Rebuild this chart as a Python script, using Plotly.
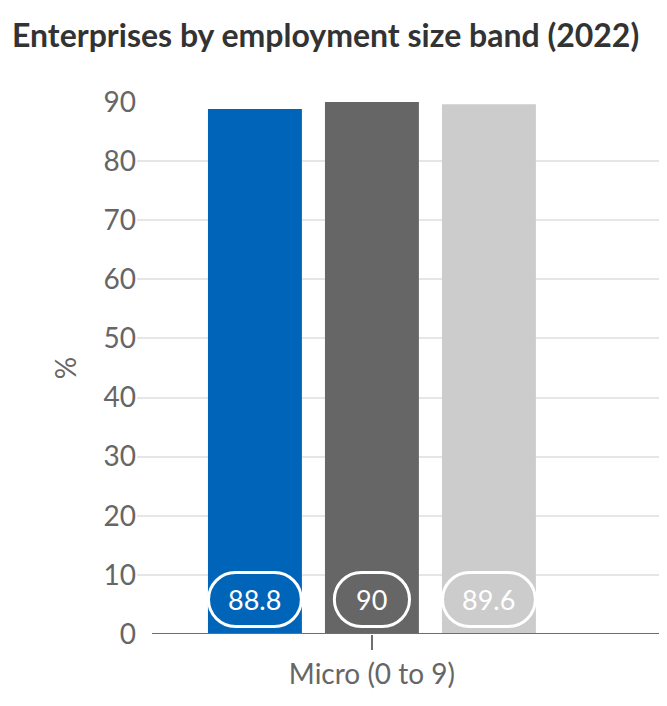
import plotly.graph_objects as go

categories = ["Micro (0 to 9)"]
series_names = ["Series A", "Series B", "Series C"]
series_values = [[88.8], [90], [89.6]]
series_colors = ["#0065b8", "#666666", "#cccccc"]
y_ticks = [0, 10, 20, 30, 40, 50, 60, 70, 80, 90]

FONT = "Lato"
BARGAP = 0.253
GROUPGAP = 0.197
FIG_W, FIG_H = 659, 690
PLOT_L = 129
PLOT_W = FIG_W - PLOT_L

fig = go.Figure()
for name, vals, col in zip(series_names, series_values, series_colors):
    fig.add_trace(go.Bar(x=categories, y=vals, name=name, marker_color=col,
                         marker_line_width=0, hoverinfo="skip"))

n = len(series_values)
slot = (1 - BARGAP) / n


def label_text(v):
    return f"{v:g}"


def pill_path(w, h, yc):
    r = h / 2
    k = 0.5523 * r
    x0, x1 = -w / 2 + r, w / 2 - r
    yt, yb = yc + r, yc - r
    return (f"M {x0},{yt} L {x1},{yt} "
            f"C {x1 + k},{yt} {x1 + r},{yc + k} {x1 + r},{yc} "
            f"C {x1 + r},{yc - k} {x1 + k},{yb} {x1},{yb} "
            f"L {x0},{yb} "
            f"C {x0 - k},{yb} {x0 - r},{yc - k} {x0 - r},{yc} "
            f"C {x0 - r},{yc + k} {x0 - k},{yt} {x0},{yt} Z")


shapes = []
annotations = []
for ci, cat in enumerate(categories):
    for i, (vals, col) in enumerate(zip(series_values, series_colors)):
        v = vals[ci]
        txt = label_text(v)
        tw = sum(7 if ch == "." else 15.1 for ch in txt)
        outer_w = 0.8 * tw + 54
        xc = ci + (i - (n - 1) / 2) * slot
        shapes.append(dict(type="path", xref="x", yref="y",
                           xsizemode="pixel", ysizemode="pixel",
                           xanchor=xc, yanchor=0,
                           path=pill_path(outer_w - 3, 54, 34.5),
                           fillcolor=col, line=dict(color="white", width=3),
                           layer="above"))
        annotations.append(dict(x=xc, y=0, xref="x", yref="y", text=txt,
                                showarrow=False, yshift=34.5, yanchor="middle",
                                xanchor="center",
                                font=dict(family=FONT, size=27, color="white")))

# x axis baseline
shapes.append(dict(type="line", xref="paper", yref="y", x0=15 / PLOT_W, x1=1,
                   y0=0, y1=0, line=dict(color="#6e6e6e", width=2), layer="above"))

fig.update_layout(
    width=FIG_W, height=FIG_H,
    margin=dict(l=PLOT_L, r=0, t=94, b=64),
    paper_bgcolor="white", plot_bgcolor="white",
    barmode="group", bargap=BARGAP, bargroupgap=GROUPGAP,
    showlegend=False,
    title=dict(text="<b>Enterprises by employment size band (2022)</b>",
               x=4 / FIG_W, xanchor="left", xref="container",
               y=1 - 17 / FIG_H, yanchor="top",
               font=dict(family=FONT, size=32, color="#333333")),
    font=dict(family=FONT, color="#666666"),
    shapes=shapes, annotations=annotations,
)
fig.update_xaxes(type="category", range=[-0.5, 0.628], showline=False,
                 showgrid=False, ticks="outside", ticklen=15, tickwidth=1.5,
                 tickcolor="#6e6e6e", tickfont=dict(family=FONT, size=28, color="#666666"))
fig.update_yaxes(range=[0, 90], tickvals=y_ticks, showgrid=True, gridcolor="#e6e6e6",
                 gridwidth=1.5, zeroline=False, showline=False, ticks="",
                 tickfont=dict(family=FONT, size=28, color="#666666"),
                 title=dict(text="%", font=dict(family=FONT, size=28, color="#666666"),
                            standoff=18))

fig.write_html("out.html")
